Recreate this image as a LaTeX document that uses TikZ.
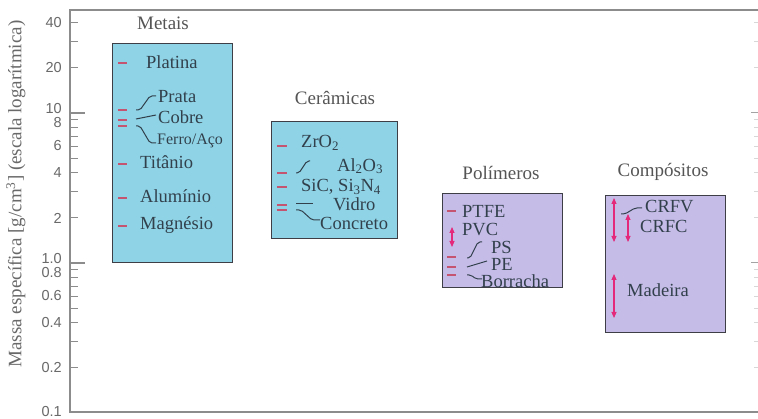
\documentclass[tikz,border=0pt]{standalone}
\usepackage{fontspec}
\setmainfont{Liberation Serif}
\newfontfamily\ticksans{Liberation Sans}
\usetikzlibrary{arrows.meta}

\definecolor{framegray}{RGB}{140,140,140}
\definecolor{boxedge}{RGB}{62,62,70}
\definecolor{metalfill}{RGB}{142,212,230}
\definecolor{polyfill}{RGB}{197,188,232}
\definecolor{labelink}{RGB}{50,64,76}
\definecolor{titleink}{RGB}{85,85,85}
\definecolor{axisink}{RGB}{105,105,105}
\definecolor{markred}{RGB}{196,84,112}
\definecolor{rangemag}{RGB}{228,40,122}

% log scale: one decade = 150 units, density 1.0 at y = 263
\newcommand\logy[1]{263-150*log10(#1)}

\tikzset{
  classbox/.style={draw=boxedge, line width=1.3pt, anchor=north west, inner sep=0pt},
  classtitle/.style={text=titleink, font=\fontsize{19}{19}\selectfont, inner sep=0pt},
  lbl/.style={text=labelink, font=\fontsize{18.5}{18.5}\selectfont, anchor=west, inner sep=0pt},
  smalllbl/.style={lbl, font=\fontsize{16}{16}\selectfont},
  densmark/.style={draw=markred, line width=1.1pt},
  leader/.style={draw=labelink, line width=1pt, rounded corners=2pt},
  spanarrow/.style={draw=rangemag, line width=1.1pt,
    {Triangle[length=6pt,width=5pt]}-{Triangle[length=6pt,width=5pt]}},
  ticklbl/.style={text=axisink, font=\ticksans\fontsize{14.5}{14.5}\selectfont,
    anchor=east, inner sep=0pt},
  tickline/.style={draw=framegray, line width=1.1pt},
}

\begin{document}
\begin{tikzpicture}[x=1pt,y=-1pt]
\useasboundingbox (0,0) rectangle (758,419);
\fill[white] (0,0) rectangle (758,419);

% ---- frame and axis ----
\draw[framegray, line width=1.3pt] (758,10) -- (70,10) -- (70,412) -- (758,412);
\foreach \v in {0.2,0.3,0.4,0.5,0.6,0.7,0.8,0.9,2,3,4,5,6,7,8,9,20,30}
  \draw[tickline] (70,{\logy{\v}}) -- ++(8,0);
\draw[tickline] (70,{\logy{40}}) -- ++(8,0);
\draw[tickline] (70,{\logy{10}}) -- ++(15,0);
\draw[tickline] (70,{\logy{1}}) -- ++(15,0);
% right-hand axis ticks
\foreach \v in {0.2,0.3,0.4,0.5,0.6,0.7,0.8,0.9,2,3,4,5,6,7,8,9,20,30,40}
  \draw[framegray!35, line width=0.8pt] (754,{\logy{\v}}) -- ++(4,0);
\draw[framegray!80, line width=1pt] (751,{\logy{10}}) -- ++(7,0);
\draw[framegray!80, line width=1pt] (751,{\logy{1}}) -- ++(7,0);

\node[ticklbl] (t40) at (62,23) {40};
\node[ticklbl] (t20) at (62,68) {20};
\node[ticklbl] (t10) at (62,109) {10};
\node[ticklbl] (t8)  at (62,123) {8};
\node[ticklbl] (t6)  at (62,146) {6};
\node[ticklbl] (t4)  at (62,173) {4};
\node[ticklbl] (t2)  at (62,218) {2};
\node[ticklbl] (t1)  at (62,259) {1.0};
\node[ticklbl] (t08) at (62,273) {0.8};
\node[ticklbl] (t06) at (62,296) {0.6};
\node[ticklbl] (t04) at (62,323) {0.4};
\node[ticklbl] (t02) at (62,368) {0.2};
\node[ticklbl] (t01) at (62,412) {0.1};

\node[rotate=90, text=axisink, font=\fontsize{19}{19}\selectfont, inner sep=0pt]
  (ytitle) at (16,194) {Massa específica [g/cm\textsuperscript{3}] (escala logarítmica)};

% ---- Metais ----
\node[classtitle] (tmet) at (163,23) {Metais};
\node[classbox, fill=metalfill, minimum width=120pt, minimum height=219pt] (metbox) at (112,43) {};
\foreach \yy in {63,110,120,126,164,198,226}
  \draw[densmark] (118,\yy) -- (127,\yy);
\node[lbl] (platina) at (146,62) {Platina};
\node[lbl] (prata) at (158,97) {Prata};
\node[lbl] (cobre) at (158,117) {Cobre};
\node[smalllbl] (ferro) at (157,141) {Ferro/Aço};
\node[lbl] (titanio) at (140,162) {Titânio};
\node[lbl] (aluminio) at (140,196) {Alumínio};
\node[lbl] (magnesio) at (140,225) {Magnésio};
\coordinate (prata-s) at (136,110);
\coordinate (cobre-s) at (136,119);
\coordinate (ferro-s) at (136,126);
\draw[leader] (prata-s) -- ++(4,0) -- ([xshift=-8pt,yshift=1pt]prata.west) -- ([xshift=-2pt,yshift=1pt]prata.west);
\draw[leader] (cobre-s) -- ([xshift=-2pt,yshift=2pt]cobre.west);
\draw[leader] (ferro-s) -- ++(4,0) -- ([xshift=-7pt,yshift=-2pt]ferro.west) -- ([xshift=-1pt,yshift=-2pt]ferro.west);

% ---- Cerâmicas ----
\node[classtitle] (tcer) at (335,98) {Cerâmicas};
\node[classbox, fill=metalfill, minimum width=126pt, minimum height=117pt] (cerbox) at (271,121) {};
\foreach \yy in {146,173,187,205,210}
  \draw[densmark] (277,\yy) -- (287,\yy);
\node[lbl] (zro) at (301,143) {ZrO\textsubscript{2}};
\node[lbl] (alo) at (337,166) {Al\textsubscript{2}O\textsubscript{3}};
\node[lbl] (sic) at (301,187) {SiC, Si\textsubscript{3}N\textsubscript{4}};
\node[lbl] (vidro) at (333,204) {Vidro};
\node[lbl] (concreto) at (320,223) {Concreto};
\coordinate (alo-s) at (296,173);
\coordinate (vidro-s) at (296,204);
\coordinate (conc-s) at (296,210);
\coordinate (alo-e) at (310,161);
\coordinate (vidro-e) at (313,204);
\draw[leader] (alo-s) -- ++(3,0) -- ([xshift=-3pt]alo-e) -- (alo-e);
\draw[leader] (vidro-s) -- (vidro-e);
\draw[leader] (conc-s) -- ++(5,0) -- ([xshift=-8pt,yshift=3pt]concreto.west) -- ([xshift=0pt,yshift=3pt]concreto.west);

% ---- Polímeros ----
\node[classtitle] (tpol) at (501,173) {Polímeros};
\node[classbox, fill=polyfill, minimum width=120pt, minimum height=94pt] (polbox) at (442,193) {};
\foreach \yy in {211,257,267,275}
  \draw[densmark] (447,\yy) -- (456,\yy);
\draw[spanarrow] (452,227) -- (452,247);
\node[lbl] (ptfe) at (462,211) {PTFE};
\node[lbl] (pvc) at (462,230) {PVC};
\node[lbl] (ps) at (491,247) {PS};
\node[lbl] (pe) at (491,264) {PE};
\node[lbl] (borracha) at (481,281) {Borracha};
\coordinate (ps-s) at (467,258);
\coordinate (pe-s) at (467,267);
\coordinate (bor-s) at (467,275);
\draw[leader] (ps-s) -- ++(3,0) -- ([xshift=-13pt,yshift=5pt]ps.west) -- ([xshift=-9pt,yshift=5pt]ps.west);
\draw[leader] (pe-s) -- ([xshift=-4pt,yshift=3pt]pe.west);
\draw[leader] (bor-s) -- ++(4,0) -- ([xshift=-5pt,yshift=2pt]borracha.west) -- ([xshift=1pt,yshift=2pt]borracha.west);

% ---- Compósitos ----
\node[classtitle] (tcom) at (663,172) {Compósitos};
\node[classbox, fill=polyfill, minimum width=120pt, minimum height=137pt] (combox) at (605,195) {};
\draw[spanarrow] (614,198) -- (614,242);
\draw[spanarrow] (628,214) -- (628,242);
\draw[spanarrow] (614,274) -- (614,318);
\node[lbl] (crfv) at (645,207) {CRFV};
\node[lbl] (crfc) at (640,226) {CRFC};
\node[lbl] (madeira) at (627,290) {Madeira};
\coordinate (crfv-s) at (621,214);
\draw[leader] (crfv-s) -- ++(4,0) -- ([xshift=-10pt,yshift=-1pt]crfv.west) -- ([xshift=-3pt,yshift=-1pt]crfv.west);
\end{tikzpicture}
\end{document}
